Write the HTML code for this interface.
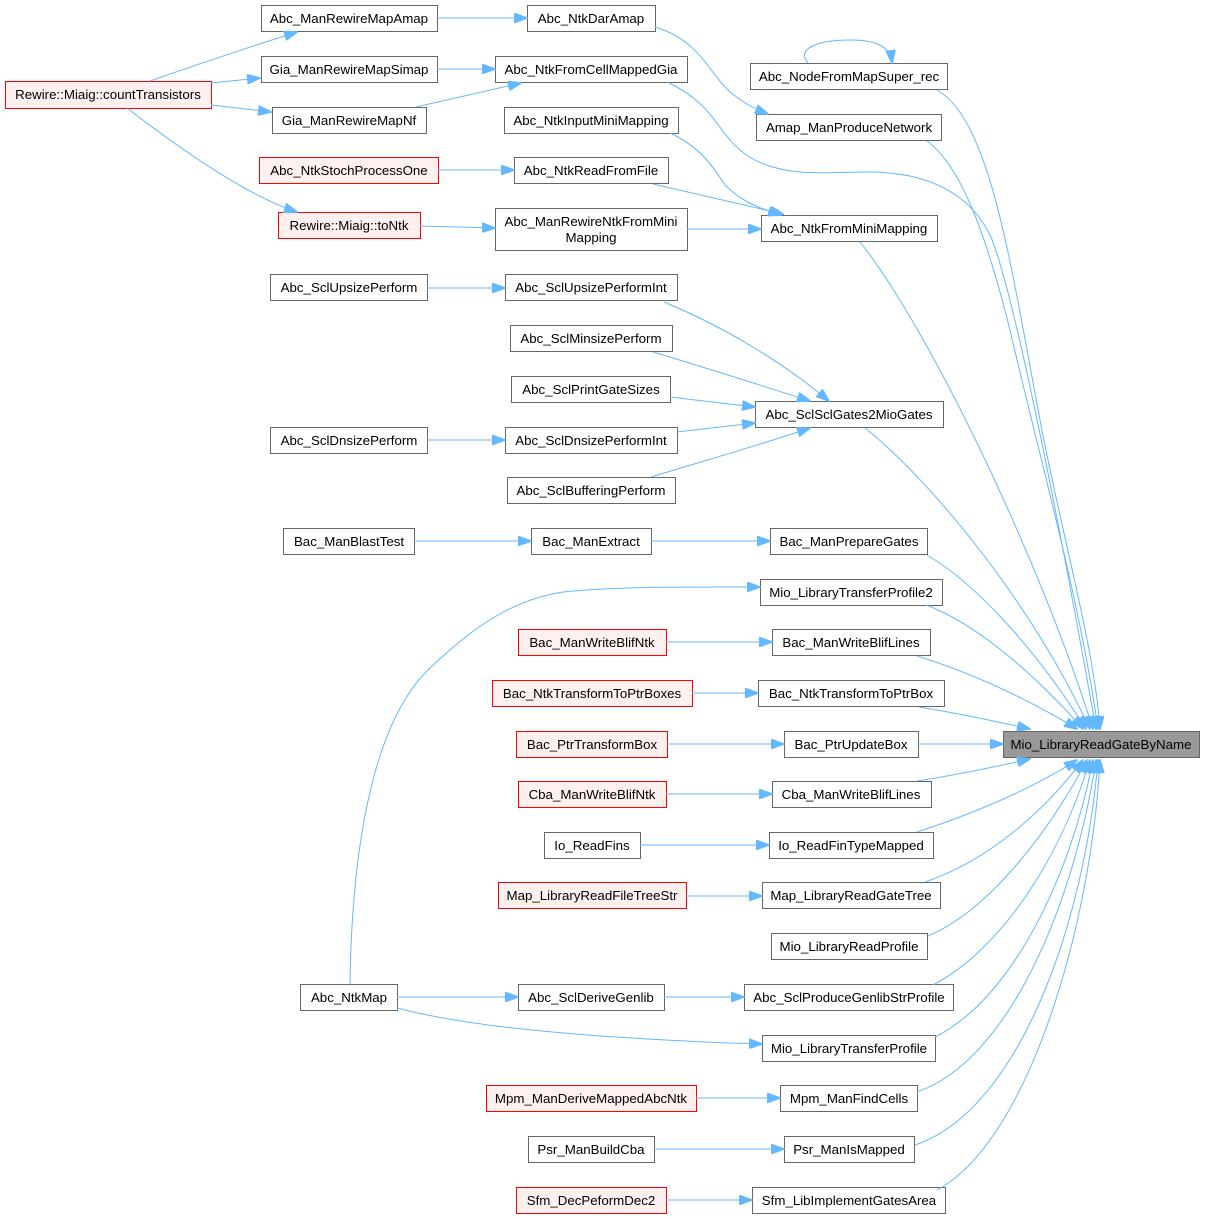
<!DOCTYPE html>
<html>
<head>
<meta charset="utf-8">
<style>
html,body{margin:0;padding:0;background:#fff;}
svg{display:block;}
text{font-family:"Liberation Sans",Arial,sans-serif;font-size:13.3px;fill:#000;text-anchor:middle;}
.n{fill:#fff;stroke:#666;stroke-width:1;}
.r{fill:#fff0f0;stroke:#ff0000;stroke-width:1;}
.g{fill:#999;stroke:#666;stroke-width:1;}
.e{fill:none;stroke:#63b8ff;stroke-width:1;marker-end:url(#a);}
</style>
</head>
<body>
<svg width="1205" height="1219" viewBox="0 0 1205 1219" xmlns="http://www.w3.org/2000/svg">
<defs>
<marker id="a" markerUnits="userSpaceOnUse" markerWidth="14" markerHeight="10" viewBox="0 0 14 10" refX="13" refY="5" orient="auto">
<path d="M0,0 L14,5 L0,10 z" fill="#63b8ff" stroke="#63b8ff" stroke-width="1"/>
</marker>
</defs>
<rect width="1205" height="1219" fill="#fff"/>

<!-- nodes -->
<rect class="r" x="5.5" y="81.5" width="206" height="27"/><text x="108" y="99">Rewire::Miaig::countTransistors</text>
<rect class="n" x="261.5" y="5.5" width="176" height="26"/><text x="349" y="23">Abc_ManRewireMapAmap</text>
<rect class="n" x="261.5" y="56.5" width="176" height="26"/><text x="349" y="74">Gia_ManRewireMapSimap</text>
<rect class="n" x="272.5" y="107.5" width="154" height="26"/><text x="349" y="125">Gia_ManRewireMapNf</text>
<rect class="r" x="259.5" y="157.5" width="179" height="26"/><text x="349" y="175">Abc_NtkStochProcessOne</text>
<rect class="r" x="278.5" y="212.5" width="142" height="26"/><text x="349" y="230">Rewire::Miaig::toNtk</text>

<rect class="n" x="527.5" y="5.5" width="128" height="26"/><text x="591" y="23">Abc_NtkDarAmap</text>
<rect class="n" x="495.5" y="56.5" width="192" height="26"/><text x="591" y="74">Abc_NtkFromCellMappedGia</text>
<rect class="n" x="504.5" y="107.5" width="174" height="26"/><text x="591" y="125">Abc_NtkInputMiniMapping</text>
<rect class="n" x="514.5" y="157.5" width="154" height="26"/><text x="591" y="175">Abc_NtkReadFromFile</text>
<rect class="n" x="495.5" y="208.5" width="192" height="42"/><text x="591" y="226">Abc_ManRewireNtkFromMini</text><text x="591" y="242">Mapping</text>

<rect class="n" x="750.5" y="63.5" width="197" height="26"/><text x="849" y="81">Abc_NodeFromMapSuper_rec</text>
<rect class="n" x="756.5" y="114.5" width="185" height="26"/><text x="849" y="132">Amap_ManProduceNetwork</text>
<rect class="n" x="761.5" y="215.5" width="176" height="26"/><text x="849" y="233">Abc_NtkFromMiniMapping</text>

<rect class="n" x="270.5" y="274.5" width="157" height="26"/><text x="349" y="292">Abc_SclUpsizePerform</text>
<rect class="n" x="505.5" y="274.5" width="172" height="26"/><text x="591" y="292">Abc_SclUpsizePerformInt</text>
<rect class="n" x="510.5" y="325.5" width="162" height="26"/><text x="591" y="343">Abc_SclMinsizePerform</text>
<rect class="n" x="511.5" y="376.5" width="159" height="26"/><text x="591" y="394">Abc_SclPrintGateSizes</text>
<rect class="n" x="755.5" y="401.5" width="188" height="26"/><text x="849" y="419">Abc_SclSclGates2MioGates</text>
<rect class="n" x="270.5" y="427.5" width="157" height="26"/><text x="349" y="445">Abc_SclDnsizePerform</text>
<rect class="n" x="505.5" y="427.5" width="172" height="26"/><text x="591" y="445">Abc_SclDnsizePerformInt</text>
<rect class="n" x="507.5" y="477.5" width="168" height="26"/><text x="591" y="495">Abc_SclBufferingPerform</text>

<rect class="n" x="283.5" y="528.5" width="131" height="26"/><text x="349" y="546">Bac_ManBlastTest</text>
<rect class="n" x="531.5" y="528.5" width="120" height="26"/><text x="591" y="546">Bac_ManExtract</text>
<rect class="n" x="770.5" y="528.5" width="157" height="26"/><text x="849" y="546">Bac_ManPrepareGates</text>
<rect class="n" x="760.5" y="579.5" width="182" height="26"/><text x="851" y="597">Mio_LibraryTransferProfile2</text>
<rect class="r" x="518.5" y="629.5" width="148" height="26"/><text x="592" y="647">Bac_ManWriteBlifNtk</text>
<rect class="n" x="772.5" y="629.5" width="158" height="26"/><text x="851" y="647">Bac_ManWriteBlifLines</text>
<rect class="r" x="492.5" y="680.5" width="200" height="26"/><text x="592" y="698">Bac_NtkTransformToPtrBoxes</text>
<rect class="n" x="758.5" y="680.5" width="186" height="26"/><text x="851" y="698">Bac_NtkTransformToPtrBox</text>
<rect class="r" x="516.5" y="731.5" width="151" height="26"/><text x="592" y="749">Bac_PtrTransformBox</text>
<rect class="n" x="784.5" y="731.5" width="134" height="26"/><text x="851" y="749">Bac_PtrUpdateBox</text>
<rect class="g" x="1003.5" y="731.5" width="196" height="26"/><text x="1101" y="749">Mio_LibraryReadGateByName</text>
<rect class="r" x="518.5" y="781.5" width="148" height="26"/><text x="592" y="799">Cba_ManWriteBlifNtk</text>
<rect class="n" x="772.5" y="781.5" width="159" height="26"/><text x="851" y="799">Cba_ManWriteBlifLines</text>
<rect class="n" x="544.5" y="832.5" width="96" height="26"/><text x="592" y="850">Io_ReadFins</text>
<rect class="n" x="769.5" y="832.5" width="164" height="26"/><text x="851" y="850">Io_ReadFinTypeMapped</text>
<rect class="r" x="498.5" y="882.5" width="188" height="26"/><text x="592" y="900">Map_LibraryReadFileTreeStr</text>
<rect class="n" x="762.5" y="882.5" width="178" height="26"/><text x="851" y="900">Map_LibraryReadGateTree</text>
<rect class="n" x="771.5" y="933.5" width="156" height="26"/><text x="849" y="951">Mio_LibraryReadProfile</text>
<rect class="n" x="300.5" y="984.5" width="97" height="26"/><text x="349" y="1002">Abc_NtkMap</text>
<rect class="n" x="518.5" y="984.5" width="146" height="26"/><text x="591" y="1002">Abc_SclDeriveGenlib</text>
<rect class="n" x="744.5" y="984.5" width="209" height="26"/><text x="849" y="1002">Abc_SclProduceGenlibStrProfile</text>
<rect class="n" x="762.5" y="1035.5" width="173" height="26"/><text x="849" y="1053">Mio_LibraryTransferProfile</text>
<rect class="r" x="486.5" y="1085.5" width="210" height="26"/><text x="591" y="1103">Mpm_ManDeriveMappedAbcNtk</text>
<rect class="n" x="780.5" y="1085.5" width="137" height="26"/><text x="849" y="1103">Mpm_ManFindCells</text>
<rect class="n" x="528.5" y="1136.5" width="126" height="26"/><text x="591" y="1154">Psr_ManBuildCba</text>
<rect class="n" x="784.5" y="1136.5" width="130" height="26"/><text x="849" y="1154">Psr_ManIsMapped</text>
<rect class="r" x="516.5" y="1187.5" width="150" height="26"/><text x="591" y="1205">Sfm_DecPeformDec2</text>
<rect class="n" x="752.5" y="1187.5" width="193" height="26"/><text x="849" y="1205">Sfm_LibImplementGatesArea</text>

<!-- edges: left part -->
<path class="e" d="M150,81 C190,67 240,50 297,32"/>
<path class="e" d="M211,83 L260,78"/>
<path class="e" d="M211,105 L271,112"/>
<path class="e" d="M127,108 C175,145 245,195 297,212"/>
<path class="e" d="M437,18 L527,18"/>
<path class="e" d="M437,69 L495,69"/>
<path class="e" d="M416,107 L521,83"/>
<path class="e" d="M438,170 L514,170"/>
<path class="e" d="M420,226 L495,228"/>
<path class="e" d="M655,27 C700,40 710,75 730,92 C745,104 755,109 768,114"/>
<path class="e" d="M670,133 C700,147 712,165 725,185 C740,200 755,207 781,215"/>
<path class="e" d="M653,184 L783,214"/>
<path class="e" d="M687,229 L761,229"/>
<path class="e" d="M808,63 C795,48 820,40 850,40 C872,40 890,44 892,63"/>

<path class="e" d="M427,288 L505,288"/>
<path class="e" d="M664,302 C720,325 780,360 829,401"/>
<path class="e" d="M653,352 C700,366 760,385 810,401"/>
<path class="e" d="M670,397 L755,407"/>
<path class="e" d="M427,440 L505,440"/>
<path class="e" d="M677,432 L755,423"/>
<path class="e" d="M651,477 C700,462 760,445 810,428"/>
<path class="e" d="M414,541 L531,541"/>
<path class="e" d="M651,541 L770,541"/>
<path class="e" d="M350,984 C352,840 375,720 430,668 C470,630 510,600 563,592 C620,586 700,587 760,587"/>
<path class="e" d="M666,642 L772,642"/>
<path class="e" d="M692,693 L758,693"/>
<path class="e" d="M667,744 L784,744"/>
<path class="e" d="M918,744 L1003,744"/>
<path class="e" d="M666,794 L772,794"/>
<path class="e" d="M640,845 L769,845"/>
<path class="e" d="M686,896 L762,896"/>
<path class="e" d="M397,997 L518,997"/>
<path class="e" d="M664,997 L744,997"/>
<path class="e" d="M397,1008 C450,1022 520,1030 600,1036 C660,1040 720,1043 762,1044"/>
<path class="e" d="M696,1098 L780,1098"/>
<path class="e" d="M654,1149 L784,1149"/>
<path class="e" d="M666,1200 L752,1200"/>

<!-- edges into Mio_LibraryReadGateByName from above -->
<path class="e" d="M937,90 C990,120 1010,260 1040,420 C1060,527 1095,650 1100,729"/>
<path class="e" d="M927,141 C960,165 985,230 1010,330 C1040,460 1080,600 1098,729"/>
<path class="e" d="M667,82 C695,95 708,110 722,130 C740,155 760,168 800,172 C840,175 870,168 910,176 C950,185 975,205 990,235 C1010,280 1050,470 1096,729"/>
<path class="e" d="M860,242 C930,330 1040,560 1093,729"/>
<path class="e" d="M865,428 C930,480 1030,600 1090,729"/>
<path class="e" d="M927,555 C970,580 1030,640 1086,729"/>
<path class="e" d="M926,605 C980,625 1040,680 1083,729"/>
<path class="e" d="M917,656 C970,672 1030,700 1077,729"/>
<path class="e" d="M919,707 C950,712 990,720 1030,729"/>

<!-- edges into Mio_LibraryReadGateByName from below -->
<path class="e" d="M917,781 C950,776 990,768 1030,759"/>
<path class="e" d="M917,832 C970,815 1030,790 1077,760"/>
<path class="e" d="M925,882 C990,860 1045,810 1083,760"/>
<path class="e" d="M928,936 C990,910 1050,830 1087,760"/>
<path class="e" d="M933,985 C1000,950 1060,860 1090,760"/>
<path class="e" d="M935,1037 C1010,1000 1070,880 1093,760"/>
<path class="e" d="M917,1092 C1010,1060 1075,900 1096,760"/>
<path class="e" d="M915,1145 C1020,1110 1085,920 1098,760"/>
<path class="e" d="M937,1190 C1030,1140 1092,920 1100,760"/>
</svg>
</body>
</html>
